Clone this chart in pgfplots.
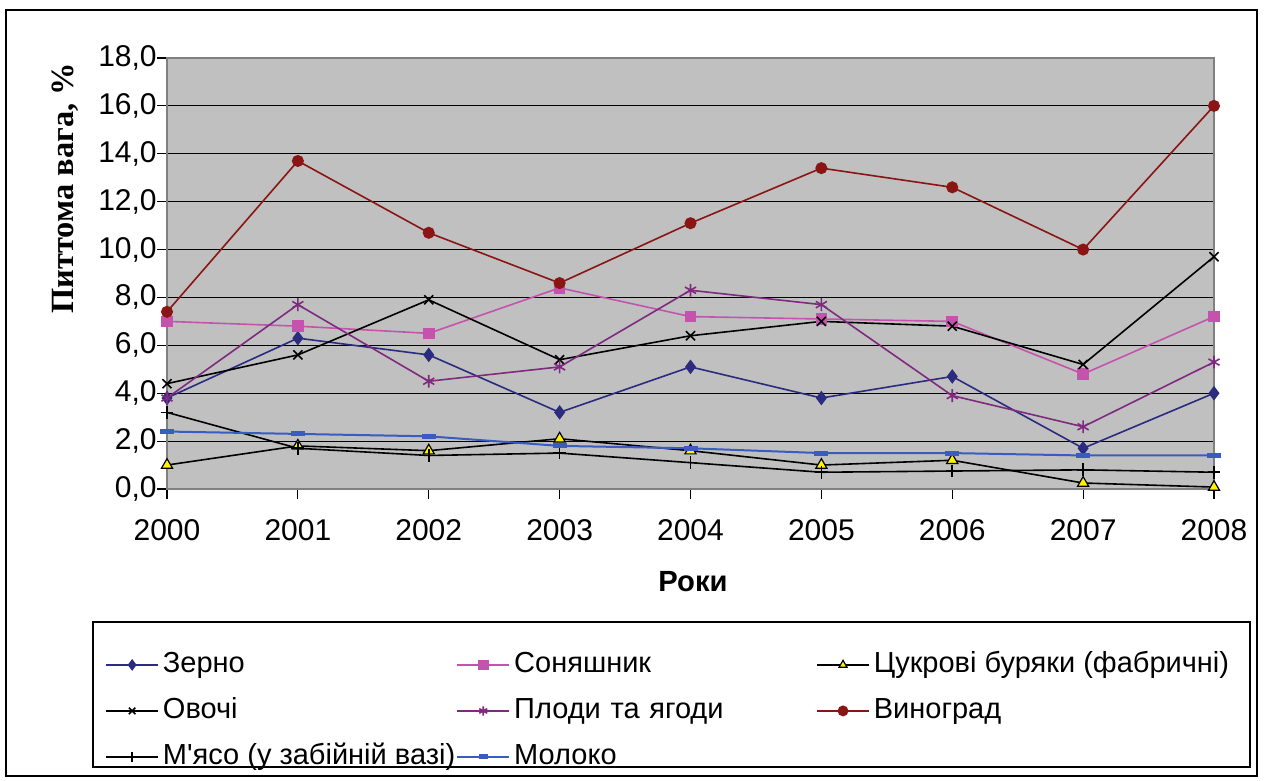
\documentclass[border=0pt]{standalone}
\usepackage{fontspec}
\setmainfont{Liberation Sans}[Ligatures=TeXOff]
\newfontfamily\serifb{Liberation Serif}
\usepackage{pgfplots}
\pgfplotsset{compat=1.18}
\definecolor{cZerno}{HTML}{2B2B80}
\definecolor{cSon}{HTML}{C553AD}
\definecolor{cPlody}{HTML}{7F2A7F}
\definecolor{cVyn}{HTML}{8B1414}
\definecolor{cMol}{HTML}{3A5BBF}
\definecolor{cBg}{HTML}{C0C0C0}
\definecolor{cFrame}{HTML}{808080}
\begin{document}
\begin{tikzpicture}
\useasboundingbox (-83.5pt,-146pt) rectangle (548.5pt,244.5pt);
\draw[black, line width=0.6pt] (-80.5pt,-143.5pt) rectangle (545pt,239.5pt);
\draw[black, line width=0.6pt] (-37pt,-139pt) rectangle (541.5pt,-66.5pt);
\begin{axis}[
  at={(0,0)}, anchor=south west,
  scale only axis, width=523.5pt, height=215.5pt,
  xmin=2000, xmax=2008, ymin=0, ymax=18,
  xtick={2000,2001,2002,2003,2004,2005,2006,2007,2008},
  xticklabels={2000,2001,2002,2003,2004,2005,2006,2007,2008},
  ytick={0,2,4,6,8,10,12,14,16,18},
  yticklabel style={/pgf/number format/fixed, /pgf/number format/fixed zerofill, /pgf/number format/precision=1, /pgf/number format/use comma, /pgf/number format/assume math mode=true, inner sep=0pt, xshift=0pt},
  tick label style={font=\fontsize{15}{17}\selectfont},
  xticklabel style={inner sep=0pt, yshift=-10pt},
  tick align=outside, major tick length=5pt,
  tick style={black, line width=0.6pt},
  xtick pos=bottom, ytick pos=left,
  axis background/.style={fill=cBg},
  axis line style={cFrame, line width=0.8pt},
  ymajorgrids, major grid style={black, line width=0.6pt},
  xlabel={\bfseries Роки},
  xlabel style={font=\fontsize{14.6}{17}\selectfont, at={(axis description cs:0.5024,-0.2158)}, anchor=center},
  ylabel={\serifb\bfseries Питтома вага, \%},
  ylabel style={font=\fontsize{16.2}{18}\selectfont, at={(axis description cs:-0.0974,0.698)}, anchor=center},
  legend columns=3,
  legend style={draw=none, fill=none, at={(axis description cs:-0.065,-0.3643)}, anchor=north west,
    font=\fontsize{14.5}{17}\selectfont,
    nodes={inner sep=0pt, text height=11pt, text depth=3.5pt, anchor=west},
    row sep=8.5pt,
    /tikz/column 1/.style={column sep=2pt},
    /tikz/column 2/.style={column sep=0.5pt},
    /tikz/column 3/.style={column sep=2pt},
    /tikz/column 4/.style={text width=151pt},
    /tikz/column 5/.style={column sep=2pt}},
  legend image code/.code={\draw[mark repeat=2,mark phase=2,#1] plot coordinates {(0pt,0pt) (13pt,0pt) (26pt,0pt)};},
  legend image post style={mark size=2.3pt},
  every axis plot/.append style={line width=0.8pt},
]
\addplot[cZerno, mark=diamond*, mark size=3pt, mark options={solid}] coordinates {
(2000,3.8) (2001,6.3) (2002,5.6) (2003,3.2) (2004,5.1) (2005,3.8) (2006,4.7) (2007,1.7) (2008,4.0)};
\addlegendentry{Зерно}
\addplot[cSon, mark=square*, mark size=2.5pt] coordinates {
(2000,7.0) (2001,6.8) (2002,6.5) (2003,8.4) (2004,7.2) (2005,7.1) (2006,7.0) (2007,4.8) (2008,7.2)};
\addlegendentry{Соняшник}
\addplot[black, mark=triangle*, mark size=3.2pt, mark options={fill=yellow, draw=black, line width=0.6pt}] coordinates {
(2000,1.0) (2001,1.8) (2002,1.6) (2003,2.1) (2004,1.6) (2005,1.0) (2006,1.2) (2007,0.25) (2008,0.08)};
\addlegendentry{Цукрові буряки (фабричні)}
\addplot[black, mark=x, mark size=3.2pt] coordinates {
(2000,4.4) (2001,5.6) (2002,7.9) (2003,5.4) (2004,6.4) (2005,7.0) (2006,6.8) (2007,5.2) (2008,9.7)};
\addlegendentry{Овочі}
\addplot[cPlody, mark=asterisk, mark size=3.2pt] coordinates {
(2000,3.8) (2001,7.7) (2002,4.5) (2003,5.1) (2004,8.3) (2005,7.7) (2006,3.9) (2007,2.6) (2008,5.3)};
\addlegendentry{Плоди та ягоди}
\addplot[cVyn, mark=*, mark size=2.6pt] coordinates {
(2000,7.4) (2001,13.7) (2002,10.7) (2003,8.6) (2004,11.1) (2005,13.4) (2006,12.6) (2007,10.0) (2008,16.0)};
\addlegendentry{Виноград}
\addplot[black, mark=+, mark size=3.2pt] coordinates {
(2000,3.2) (2001,1.7) (2002,1.4) (2003,1.5) (2004,1.1) (2005,0.7) (2006,0.75) (2007,0.8) (2008,0.7)};
\addlegendentry{М'ясо (у забійній вазі)}
\addplot[cMol, line width=1pt, mark=-, mark size=3.5pt, mark options={line width=2.5pt}] coordinates {
(2000,2.4) (2001,2.3) (2002,2.2) (2003,1.8) (2004,1.7) (2005,1.5) (2006,1.5) (2007,1.4) (2008,1.4)};
\addlegendentry{Молоко}
\end{axis}
\end{tikzpicture}
\end{document}
